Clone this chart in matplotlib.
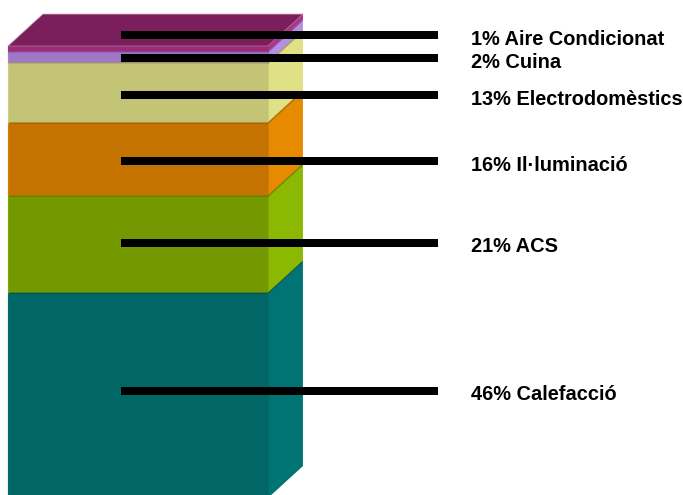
import matplotlib
matplotlib.use("Agg")
import matplotlib.pyplot as plt
from matplotlib.patches import Polygon

# bottom to top
labels = ["46% Calefacció", "21% ACS", "16% Il·luminació", "13% Electrodomèstics", "2% Cuina", "1% Aire Condicionat"]
heights = [45.6, 21.6, 16.3, 13.4, 2.45, 1.3]
leader_levels = [23.9, 56.9, 75.0, 89.7, 98.0, 103.1]
front_cols = ["#006666", "#749900", "#C47200", "#C4C476", "#9E78C6", "#9E2A78"]
side_cols = ["#007474", "#8BB800", "#E68A00", "#E0E085", "#B58FE0", "#B5308A"]
edge_cols = ["#004F4F", "#5C7A00", "#9A5A00", "#9A9A55", "#7A5A9E", "#7A1F5C"]
top_col = "#7A1F5C"

px_per_unit = 4.49
W, H = 683, 495
fig = plt.figure(figsize=(W / 100, H / 100), dpi=100)
ax = fig.add_axes([0, 0, 1, 1])
ax.set_xlim(0, W)
base_px = 498
ax.set_ylim((base_px - H) / px_per_unit, base_px / px_per_unit)
ax.axis("off")

x0, x1 = 8, 268
dx = 35
dy = 32 / px_per_unit

bottom = 0.0
for h, fc, sc, ec in zip(heights, front_cols, side_cols, edge_cols):
    top = bottom + h
    ax.add_patch(Polygon([(x1, bottom), (x1 + dx, bottom + dy), (x1 + dx, top + dy), (x1, top)],
                         closed=True, fc=sc, ec="none", zorder=2))
    ax.bar((x0 + x1) / 2, h, width=x1 - x0, bottom=bottom, color=fc, zorder=3)
    # soft shadow along the upper edges of each block, cast by the block above
    ax.plot([x0, x1, x1 + dx], [top, top, top + dy], color=ec, lw=1.0, alpha=.8, zorder=4, solid_capstyle="butt")
    # light rim on left edge of the front, and right edge of the side
    ax.plot([x0, x0], [bottom, top], color=sc, lw=1, alpha=.45, zorder=4)
    ax.plot([x1 + dx - .5] * 2, [bottom + dy, top + dy], color="#FFFFFF", lw=1, alpha=.35, zorder=4)
    ax.plot([x1, x1], [bottom, top], color=ec, lw=.8, alpha=.25, zorder=4)
    bottom = top

ax.add_patch(Polygon([(x0, bottom), (x1, bottom), (x1 + dx, bottom + dy), (x0 + dx, bottom + dy)],
                     closed=True, fc=top_col, ec="#C08AB0", lw=.5, zorder=5))

for lvl, lab in zip(leader_levels, labels):
    ax.plot([121, 438], [lvl, lvl], color="black", lw=5.76, solid_capstyle="butt", zorder=6)
    ax.annotate(lab, (471, lvl), xytext=(0, -1.5), textcoords="offset points",
                fontfamily="Liberation Sans", fontweight="bold", fontsize=14.4,
                va="center_baseline", ha="left", color="black", zorder=7, annotation_clip=False)

fig.savefig("out.png", dpi=100)
